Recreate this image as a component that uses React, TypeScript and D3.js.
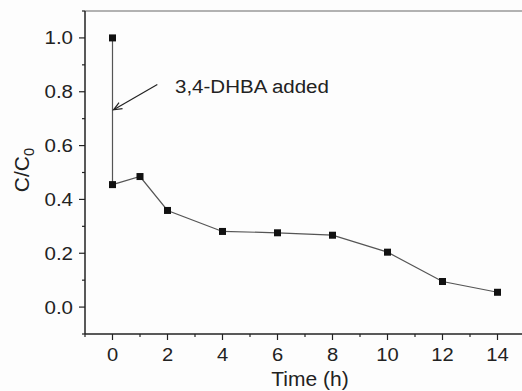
import * as d3 from "d3";

// data
const times = [0, 0, 1, 2, 4, 6, 8, 10, 12, 14];
const ratios = [1.0, 0.455, 0.485, 0.359, 0.281, 0.276, 0.267, 0.204, 0.095, 0.055];
const xTicks = [0, 2, 4, 6, 8, 10, 12, 14];
const yTicks = [0.0, 0.2, 0.4, 0.6, 0.8, 1.0];
const arrowFrom = [1.63, 0.827];
const arrowTo = [0.04, 0.733];
const noteText = "3,4-DHBA added";

// text that is slightly wider than Arial in the reference
function Label({ x, y, sx = 1.1, children, ...rest }: any) {
  return (
    <g transform={`translate(${x},${y}) scale(${sx},1)`}>
      <text {...rest}>{children}</text>
    </g>
  );
}

export default function App() {
  const width = 522;
  const height = 391;
  const left = 85;
  const right = 525;
  const top = 11;
  const bottom = 334;
  const font = "Liberation Sans, Arial, Helvetica, sans-serif";

  const x = d3.scaleLinear([-1, 15], [left, right]);
  const y = d3.scaleLinear([-0.1, 1.1], [bottom, top]);
  const pts = times.map((t, i) => [t, ratios[i]] as [number, number]);
  const line = d3.line<[number, number]>((d) => x(d[0]), (d) => y(d[1]));

  const xMinor = d3.range(-1, 16, 2);
  const yMinor = d3.range(-0.1, 1.11, 0.2);

  // arrow head
  const ax1 = x(arrowFrom[0]), ay1 = y(arrowFrom[1]);
  const ax2 = x(arrowTo[0]), ay2 = y(arrowTo[1]);
  const ang = Math.atan2(ay2 - ay1, ax2 - ax1);
  const hl = 9, hw = 0.4;
  const head = `M${ax2 - hl * Math.cos(ang - hw)},${ay2 - hl * Math.sin(ang - hw)}L${ax2},${ay2}L${ax2 - hl * Math.cos(ang + hw)},${ay2 - hl * Math.sin(ang + hw)}`;

  return (
    <svg width={width} height={height} style={{ position: "absolute", left: 0, top: 0, background: "#fdfdfd" }} fontFamily={font}>
      {/* frame */}
      <line x1={left} x2={width} y1={top} y2={top} stroke="#999" strokeWidth={1.5} />
      <line x1={left} x2={left} y1={top} y2={bottom} stroke="#222" strokeWidth={1.5} />
      <line x1={left} x2={width} y1={bottom} y2={bottom} stroke="#222" strokeWidth={1.5} />

      {/* x ticks */}
      {xTicks.map((t) => (
        <g key={"x" + t}>
          <line x1={x(t)} x2={x(t)} y1={bottom} y2={bottom + 6} stroke="#222" strokeWidth={1.2} />
          <Label x={x(t)} y={361} sx={1.12} textAnchor="middle" fontSize={18} fill="#222">{t}</Label>
        </g>
      ))}
      {xMinor.map((t) => (
        <line key={"xm" + t} x1={x(t)} x2={x(t)} y1={bottom} y2={bottom + 3} stroke="#222" strokeWidth={1.2} />
      ))}

      {/* y ticks */}
      {yTicks.map((v) => (
        <g key={"y" + v}>
          <line x1={left - 6} x2={left} y1={y(v)} y2={y(v)} stroke="#222" strokeWidth={1.2} />
          <Label x={73} y={y(v)} sx={1.14} dy="0.36em" textAnchor="end" fontSize={18} fill="#222">{v.toFixed(1)}</Label>
        </g>
      ))}
      {yMinor.map((v) => (
        <line key={"ym" + v.toFixed(1)} x1={left - 3} x2={left} y1={y(v)} y2={y(v)} stroke="#222" strokeWidth={1.2} />
      ))}

      {/* axis titles */}
      <Label x={310} y={386} sx={1.05} textAnchor="middle" fontSize={20} fill="#222">Time (h)</Label>
      <text transform="translate(29,170) rotate(-90) scale(1.05,1)" textAnchor="middle" fontSize={20} fill="#222">
        C/C<tspan fontSize={14} dy={5}>0</tspan>
      </text>

      {/* series */}
      <path d={line(pts) ?? ""} fill="none" stroke="#555" strokeWidth={1.2} />
      {pts.map((d, i) => (
        <rect key={i} x={x(d[0]) - 3.5} y={y(d[1]) - 3.5} width={7} height={7} fill="#111" />
      ))}

      {/* annotation */}
      <line x1={ax1} y1={ay1} x2={ax2} y2={ay2} stroke="#222" strokeWidth={1.2} />
      <path d={head} fill="none" stroke="#222" strokeWidth={1.2} />
      <Label x={175} y={93} sx={1.08} fontSize={19} fill="#222">{noteText}</Label>
    </svg>
  );
}
